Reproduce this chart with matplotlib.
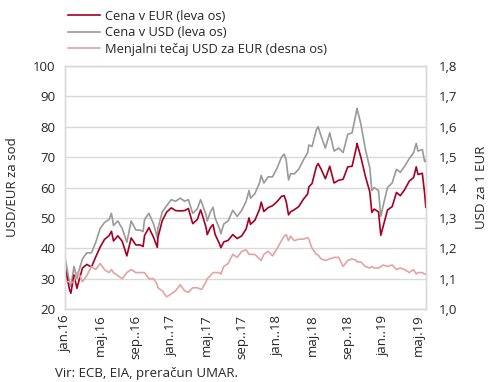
import numpy as np
import pandas as pd
import matplotlib
matplotlib.use('Agg')
import matplotlib.pyplot as plt
import matplotlib.dates as mdates

# Semi-monthly readings (Brent in USD and EUR, EUR/USD rate)
dates = ['2016-01-01', '2016-01-16', '2016-01-21', '2016-02-01', '2016-02-11', '2016-02-16',
         '2016-03-01', '2016-03-16', '2016-04-01', '2016-04-16', '2016-05-01', '2016-05-16',
         '2016-06-01', '2016-06-09', '2016-06-16', '2016-07-01', '2016-07-16', '2016-08-01',
         '2016-08-16', '2016-09-01', '2016-09-16', '2016-09-26', '2016-10-01', '2016-10-16',
         '2016-11-01', '2016-11-14', '2016-11-16', '2016-12-01', '2016-12-16',
         '2017-01-01', '2017-01-16', '2017-02-01', '2017-02-16', '2017-03-01', '2017-03-16',
         '2017-04-01', '2017-04-12', '2017-04-16', '2017-05-01', '2017-05-05', '2017-05-16',
         '2017-05-25', '2017-06-01', '2017-06-16', '2017-06-21', '2017-07-01', '2017-07-16',
         '2017-08-01', '2017-08-16', '2017-09-01', '2017-09-16', '2017-09-26', '2017-10-01',
         '2017-10-16', '2017-11-01', '2017-11-07', '2017-11-16', '2017-12-01', '2017-12-16',
         '2018-01-01', '2018-01-16', '2018-01-25', '2018-02-01', '2018-02-09', '2018-02-16',
         '2018-03-01', '2018-03-16', '2018-04-01', '2018-04-16', '2018-04-20', '2018-05-01',
         '2018-05-16', '2018-05-22', '2018-06-01', '2018-06-16', '2018-07-01', '2018-07-16',
         '2018-08-01', '2018-08-16', '2018-09-01', '2018-09-16', '2018-10-01', '2018-10-03',
         '2018-10-16', '2018-11-01', '2018-11-16', '2018-11-23', '2018-12-01', '2018-12-16',
         '2018-12-24', '2019-01-01', '2019-01-16', '2019-02-01', '2019-02-16', '2019-03-01',
         '2019-03-16', '2019-04-01', '2019-04-16', '2019-04-25', '2019-05-01', '2019-05-16',
         '2019-05-24', '2019-05-28']

usd = [37.0, 29.0, 27.5, 34.0, 30.0, 32.0,
       36.5, 38.5, 38.5, 42.0, 46.5, 48.5,
       49.5, 51.5, 47.5, 49.0, 46.5, 42.0,
       49.0, 46.0, 46.0, 45.5, 49.5, 51.5,
       48.0, 43.5, 46.5, 52.0, 54.0,
       56.0, 55.5, 56.5, 55.5, 56.0, 51.5,
       53.0, 56.0, 55.0, 51.0, 49.0, 52.0,
       53.5, 50.0, 46.5, 44.8, 48.0, 49.0,
       52.5, 50.5, 52.5, 55.5, 59.0, 56.5,
       58.0, 61.5, 64.0, 61.5, 63.5, 63.5,
       66.5, 70.0, 71.0, 69.0, 62.5, 64.5,
       64.5, 66.0, 69.0, 71.5, 74.0, 73.5,
       79.0, 80.0, 77.0, 73.0, 78.0, 72.0,
       73.0, 71.5, 77.5, 78.0, 85.0, 86.0,
       81.0, 72.5, 66.5, 59.0, 60.0, 59.0,
       50.5, 54.0, 60.0, 61.5, 66.0, 65.0,
       67.0, 69.5, 71.5, 74.5, 72.0, 72.5,
       68.5, 69.0]

eur = [33.9, 26.6, 25.2, 31.2, 26.8, 28.6,
       33.5, 34.7, 33.8, 37.2, 40.4, 42.9,
       44.2, 45.6, 42.4, 44.1, 42.3, 37.5,
       43.4, 41.1, 41.1, 40.6, 44.2, 46.8,
       43.6, 40.3, 43.5, 49.1, 51.9,
       53.3, 52.4, 52.3, 52.4, 53.1, 48.1,
       49.5, 52.6, 51.6, 46.8, 44.5, 46.8,
       47.8, 44.6, 41.5, 40.2, 42.1, 42.6,
       44.5, 43.2, 44.1, 46.4, 50.0, 47.9,
       49.2, 52.8, 55.2, 52.1, 53.4, 54.0,
       55.4, 57.1, 57.3, 55.4, 51.0, 52.0,
       52.7, 53.7, 56.1, 57.9, 60.2, 61.3,
       66.9, 67.9, 66.1, 62.9, 67.0, 61.5,
       62.4, 62.7, 66.8, 67.0, 73.3, 74.5,
       70.1, 63.6, 58.6, 51.8, 52.9, 52.0,
       44.3, 47.2, 52.6, 53.7, 58.4, 57.3,
       59.3, 62.1, 63.3, 66.8, 64.3, 64.7,
       58.0, 53.5]

rate = [1.09, 1.09, 1.085, 1.09, 1.12, 1.12,
        1.09, 1.11, 1.14, 1.13, 1.15, 1.13,
        1.12, 1.13, 1.12, 1.11, 1.10, 1.12,
        1.13, 1.12, 1.12, 1.12, 1.12, 1.10,
        1.10, 1.08, 1.07, 1.06, 1.04,
        1.05, 1.06, 1.08, 1.06, 1.055, 1.07,
        1.07, 1.065, 1.065, 1.09, 1.10, 1.11,
        1.12, 1.12, 1.12, 1.115, 1.14, 1.15,
        1.18, 1.17, 1.19, 1.195, 1.18, 1.18,
        1.18, 1.165, 1.16, 1.18, 1.19, 1.175,
        1.20, 1.225, 1.24, 1.245, 1.225, 1.24,
        1.225, 1.23, 1.23, 1.235, 1.23, 1.20,
        1.18, 1.178, 1.165, 1.16, 1.165, 1.17,
        1.17, 1.14, 1.16, 1.165, 1.16, 1.155,
        1.155, 1.14, 1.135, 1.14, 1.135, 1.135,
        1.14, 1.145, 1.14, 1.145, 1.13, 1.135,
        1.13, 1.12, 1.13, 1.115, 1.12, 1.12,
        1.115, 1.115]

tick_dates = ['2016-01-01', '2016-05-01', '2016-09-01', '2017-01-01', '2017-05-01',
              '2017-09-01', '2018-01-01', '2018-05-01', '2018-09-01', '2019-01-01',
              '2019-05-01']
tick_labels = ['jan.16', 'maj.16', 'sep..16', 'jan..17', 'maj.17', 'sep..17',
               'jan..18', 'maj.18', 'sep..18', 'jan..19', 'maj.19']

left_ticks = [20, 30, 40, 50, 60, 70, 80, 90, 100]
right_ticks = [1.0, 1.1, 1.2, 1.3, 1.4, 1.5, 1.6, 1.7, 1.8]

plt.rcParams['font.family'] = ['Open Sans', 'DejaVu Sans']
txt = '#262626'
grid_col = '#d9d9d9'

x = pd.to_datetime(dates)

fig = plt.figure(figsize=(4.9, 3.82), dpi=100)
ax = fig.add_axes([0.1327, 0.191, 0.7363, 0.6362])
ax2 = ax.twinx()

l_usd, = ax.plot(x, usd, color='#9a9a9a', lw=1.2, zorder=3)
l_eur, = ax.plot(x, eur, color='#a50021', lw=1.2, zorder=4)
l_rate, = ax2.plot(x, rate, color='#e2a3a3', lw=1.2)

ax.set_ylim(20, 100)
ax2.set_ylim(1.0, 1.8)
ax.set_xlim(pd.Timestamp('2016-01-01'), pd.Timestamp('2019-05-28'))

ax.set_yticks(left_ticks)
ax.set_yticklabels([str(v) for v in left_ticks], fontsize=9.5, color=txt)
ax2.set_yticks(right_ticks)
ax2.set_yticklabels([('%.1f' % v).replace('.', ',') for v in right_ticks], fontsize=9.5, color=txt)
ax.set_xticks(pd.to_datetime(tick_dates))
ax.set_xticklabels(tick_labels, rotation=90, fontsize=9.5, color=txt)

ax.grid(axis='y', color=grid_col, lw=1)
ax.set_axisbelow(True)
ax.tick_params(axis='y', length=0, pad=7)
ax.tick_params(axis='x', length=0, pad=4)
ax2.tick_params(length=0, pad=9)
for a in (ax, ax2):
    for s in a.spines.values():
        s.set_color(grid_col)
        s.set_linewidth(1)

ax.set_ylabel('USD/EUR za sod', fontsize=9.5, color=txt, labelpad=10)
ax2.set_ylabel('USD za 1 EUR', fontsize=9.5, color=txt, labelpad=13)

fig.legend([l_eur, l_usd, l_rate],
           ['Cena v EUR (leva os)', 'Cena v USD (leva os)', 'Menjalni tečaj USD za EUR (desna os)'],
           loc='upper left', bbox_to_anchor=(0.123, 0.995), frameon=False, fontsize=9.3,
           handlelength=2.5, handletextpad=0.4, labelspacing=0.28, borderaxespad=0.2,
           labelcolor=txt)

fig.text(0.112, 0.012, 'Vir: ECB, EIA, preračun UMAR.', fontsize=9.5, color=txt)

fig.savefig('out.png', dpi=100)
